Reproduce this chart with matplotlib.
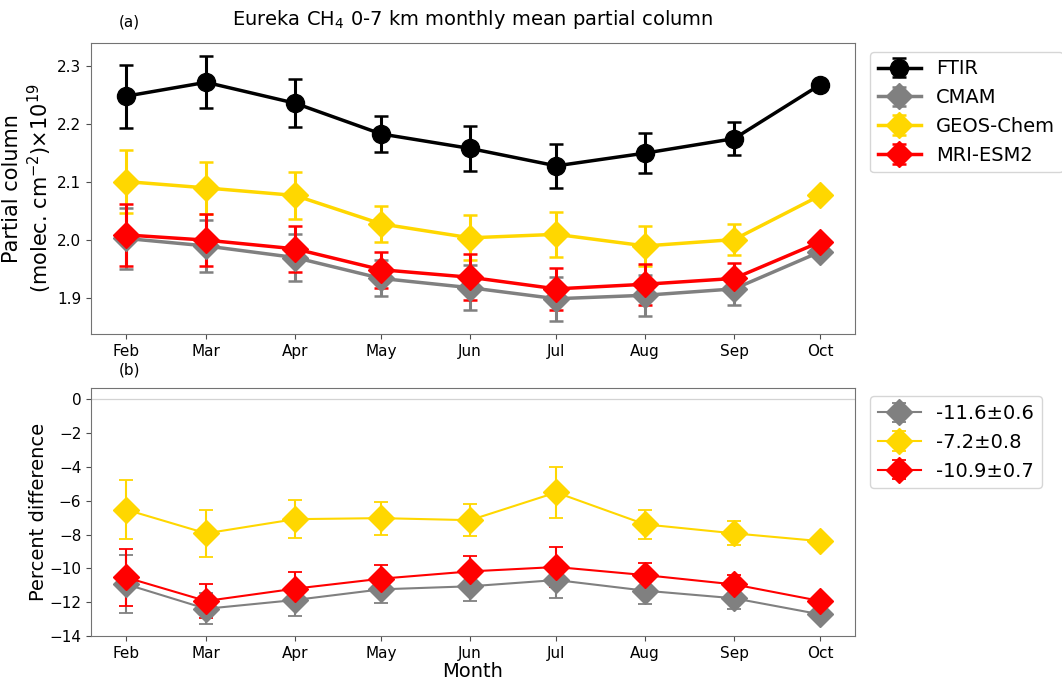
import datetime as dt
import numpy as np
import matplotlib
matplotlib.use('Agg')
from matplotlib import pyplot as plt
import matplotlib.dates as mdates

# monthly means (first of month), Eureka 0-7 km CH4 partial column (x1e19)
months = [dt.datetime(2021, m, 1) for m in range(2, 11)]

ftir = [2.248, 2.272, 2.236, 2.183, 2.158, 2.128, 2.150, 2.175, 2.268]
ftir_err = [0.054, 0.045, 0.041, 0.031, 0.039, 0.038, 0.035, 0.028, 0.0]
cmam = [2.003, 1.990, 1.970, 1.934, 1.918, 1.899, 1.905, 1.916, 1.980]
cmam_err = [0.052, 0.045, 0.041, 0.031, 0.039, 0.038, 0.035, 0.028, 0.0]
geos = [2.101, 2.090, 2.077, 2.028, 2.004, 2.010, 1.990, 2.001, 2.077]
geos_err = [0.054, 0.045, 0.041, 0.031, 0.039, 0.039, 0.034, 0.027, 0.0]
mri = [2.009, 2.000, 1.985, 1.949, 1.936, 1.916, 1.924, 1.934, 1.997]
mri_err = [0.053, 0.045, 0.040, 0.031, 0.040, 0.036, 0.035, 0.027, 0.0]

# percent differences model vs FTIR
cmam_pd = [-10.93, -12.39, -11.87, -11.24, -11.06, -10.69, -11.32, -11.77, -12.72]
cmam_pd_err = [1.70, 0.92, 0.95, 0.79, 0.87, 1.05, 0.77, 0.62, 0.0]
geos_pd = [-6.52, -7.93, -7.09, -7.03, -7.15, -5.51, -7.40, -7.93, -8.39]
geos_pd_err = [1.77, 1.37, 1.13, 0.98, 0.93, 1.52, 0.88, 0.71, 0.0]
mri_pd = [-10.53, -11.93, -11.20, -10.61, -10.18, -9.92, -10.40, -10.95, -11.93]
mri_pd_err = [1.70, 1.00, 1.00, 0.79, 0.91, 1.16, 0.71, 0.55, 0.0]

labels_top = ['FTIR', 'CMAM', 'GEOS-Chem', 'MRI-ESM2']
labels_bot = ['-11.6\u00b10.6', '-7.2\u00b10.8', '-10.9\u00b10.7']
colors = ['black', 'grey', 'gold', 'red']

fig = plt.figure(figsize=(10.62, 6.8), dpi=100)
ax1 = fig.add_axes([0.0857, 0.5088, 0.7194, 0.428])
ax2 = fig.add_axes([0.0857, 0.0647, 0.7194, 0.3647])

top_series = [(ftir, ftir_err, 'o'), (cmam, cmam_err, 'D'),
              (geos, geos_err, 'D'), (mri, mri_err, 'D')]
for (vals, err, mk), c, lab in zip(top_series, colors, labels_top):
    ax1.errorbar(months, vals, yerr=err, color=c, marker=mk, markersize=13,
                 linewidth=2.5, elinewidth=2.2, capsize=5, capthick=1.8,
                 label=lab)

bot_series = [(cmam_pd, cmam_pd_err), (geos_pd, geos_pd_err), (mri_pd, mri_pd_err)]
for (vals, err), c, lab in zip(bot_series, colors[1:], labels_bot):
    ax2.errorbar(months, vals, yerr=err, color=c, marker='D', markersize=13,
                 linewidth=1.5, elinewidth=1.5, capsize=5, capthick=1.3,
                 label=lab)
ax2.axhline(0, color='lightgrey', linewidth=0.9, zorder=0)

for ax in (ax1, ax2):
    ax.xaxis.set_major_locator(mdates.MonthLocator())
    ax.xaxis.set_major_formatter(mdates.DateFormatter('%b'))
    ax.tick_params(labelsize=11, color='0.3')
    for s in ax.spines.values():
        s.set_edgecolor('0.45')

ax1.set_yticks([1.9, 2.0, 2.1, 2.2, 2.3])
ax2.set_yticks(np.arange(-14, 1, 2))

ax1.set_ylabel('Partial column\n(molec. cm$^{-2}$)\u00d710$^{19}$', fontsize=15,
               labelpad=2)
ax2.set_ylabel('Percent difference', fontsize=14, labelpad=1)
ax2.set_xlabel('Month', fontsize=14, labelpad=1)
ax1.set_title('Eureka CH$_4$ 0-7 km monthly mean partial column', fontsize=14, pad=13)
fig.text(0.112, 0.967, '(a)', fontsize=11, ha='left', va='center')
fig.text(0.112, 0.456, '(b)', fontsize=11, ha='left', va='center')

ax1.legend(loc='upper left', bbox_to_anchor=(1.012, 0.99), fontsize=14,
           handlelength=2.2, borderaxespad=0.3)
ax2.legend(loc='upper left', bbox_to_anchor=(1.012, 0.99), fontsize=14,
           handlelength=2.2, borderaxespad=0.3)

fig.savefig('out.png', dpi=100)
